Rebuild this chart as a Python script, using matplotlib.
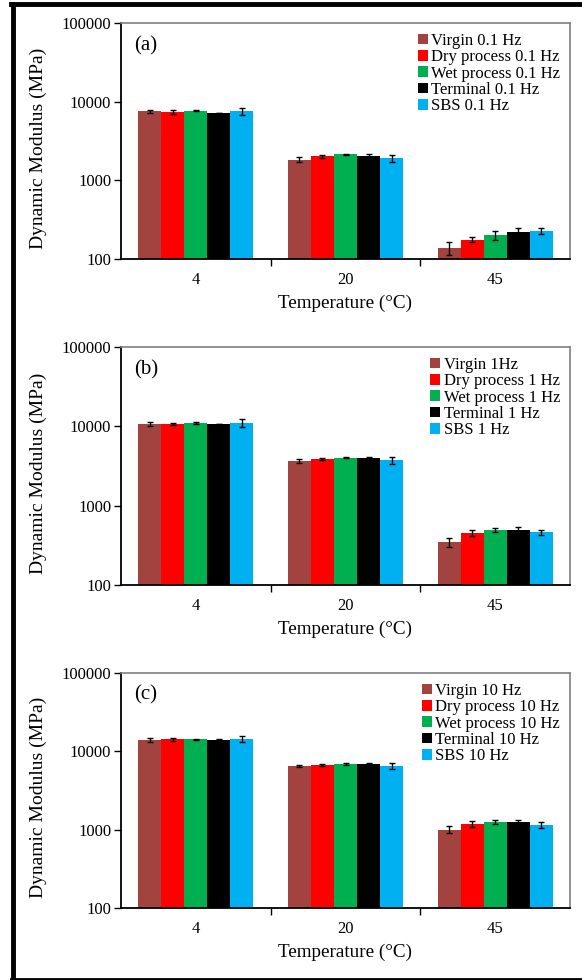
import numpy as np
import matplotlib
matplotlib.use("Agg")
import matplotlib.pyplot as plt
from matplotlib.lines import Line2D

plt.rcParams['font.family'] = ['Liberation Serif', 'DejaVu Serif']

temps = ['4', '20', '45']
materials = ['Virgin', 'Dry process', 'Wet process', 'Terminal', 'SBS']
colors = ['#A3433F', '#FF0000', '#00B050', '#000000', '#00B0F0']

# panel (a) 0.1 Hz
labels_a = ['Virgin 0.1 Hz', 'Dry process 0.1 Hz', 'Wet process 0.1 Hz', 'Terminal 0.1 Hz', 'SBS 0.1 Hz']
mod_a = [[7500, 1830, 138],
         [7400, 2020, 176],
         [7650, 2140, 200],
         [7200, 2060, 220],
         [7600, 1900, 226]]
err_a = [[400, 130, 25],
         [400, 100, 12],
         [100, 50, 25],
         [60, 120, 30],
         [800, 200, 20]]

# panel (b) 1 Hz
labels_b = ['Virgin 1Hz', 'Dry process 1 Hz', 'Wet process 1 Hz', 'Terminal 1 Hz', 'SBS 1 Hz']
mod_b = [[10700, 3690, 345],
         [10700, 3900, 455],
         [11000, 4000, 495],
         [10700, 4000, 495],
         [11000, 3760, 462]]
err_b = [[600, 200, 45],
         [400, 100, 40],
         [200, 60, 35],
         [100, 80, 50],
         [1200, 400, 30]]

# panel (c) 10 Hz
labels_c = ['Virgin 10 Hz', 'Dry process 10 Hz', 'Wet process 10 Hz', 'Terminal 10 Hz', 'SBS 10 Hz']
mod_c = [[13800, 6500, 1000],
         [14200, 6700, 1180],
         [14200, 6900, 1260],
         [14100, 6960, 1240],
         [14500, 6500, 1150]]
err_c = [[800, 200, 100],
         [500, 200, 100],
         [200, 150, 70],
         [100, 100, 100],
         [1200, 600, 100]]

panels = [('(a)', labels_a, mod_a, err_a),
          ('(b)', labels_b, mod_b, err_b),
          ('(c)', labels_c, mod_c, err_c)]

# axes boxes in pixels: top, bottom
boxes = [(23, 259), (347, 585), (673, 908)]
W, H = 582, 980

fig = plt.figure(figsize=(W / 100, H / 100), dpi=100)

x = np.arange(len(temps))
bw = 0.154

for (tag, labels, mod, err), (top, bot) in zip(panels, boxes):
    ax = fig.add_axes([121 / W, 1 - bot / H, (570 - 121) / W, (bot - top) / H])
    for i in range(len(materials)):
        ax.bar(x + (i - 2) * bw, mod[i], bw, yerr=err[i], color=colors[i],
               label=labels[i], error_kw=dict(ecolor='black', elinewidth=1, capsize=2.5, capthick=1))
    ax.set_yscale('log')
    ax.set_ylim(100, 100000)
    ax.set_xlim(-0.5, 2.5)
    ax.set_yticks([100, 1000, 10000, 100000])
    ax.set_yticklabels(['100', '1000', '10000', '100000'])
    ax.minorticks_off()
    ax.set_xticks(x)
    ax.set_xticklabels(temps)
    ax.set_xticks([0.5, 1.5], minor=True)
    ax.tick_params(axis='x', which='major', length=0, pad=9, labelsize=12)
    ax.tick_params(axis='x', which='minor', length=5, width=1, direction='out')
    ax.tick_params(axis='y', length=5, width=1, direction='out', labelsize=12, pad=2)
    for s in ['left', 'bottom']:
        ax.spines[s].set_color('black')
        ax.spines[s].set_linewidth(1.3)
    for s in ['top', 'right']:
        ax.spines[s].set_color('#808080')
        ax.spines[s].set_linewidth(1.2)
    ax.set_xlabel('Temperature (°C)', fontsize=13.8, labelpad=5)
    ax.set_ylabel('Dynamic Modulus (MPa)', fontsize=14)
    ax.yaxis.set_label_coords(-0.165, 0.47)
    ax.text(0.03, 0.905, tag, transform=ax.transAxes, fontsize=15, va='center', ha='left')
    ax.legend(loc='upper right', bbox_to_anchor=(1.0, 1.0), frameon=False, fontsize=12,
              handlelength=0.6, handleheight=0.6, handletextpad=0.2, labelspacing=0.02,
              borderaxespad=0.2)

# outer frame
lc = 'black'
fig.add_artist(Line2D([13 / W, 13 / W], [2 / H, 1 - 4.5 / H], color=lc, lw=3.5, transform=fig.transFigure))
fig.add_artist(Line2D([11 / W, 1.0], [1 - 4.5 / H, 1 - 4.5 / H], color=lc, lw=3.5, transform=fig.transFigure))
fig.add_artist(Line2D([11 / W, 1.0], [1.5 / H, 1.5 / H], color=lc, lw=2, transform=fig.transFigure))

fig.savefig('out.png', dpi=100)
